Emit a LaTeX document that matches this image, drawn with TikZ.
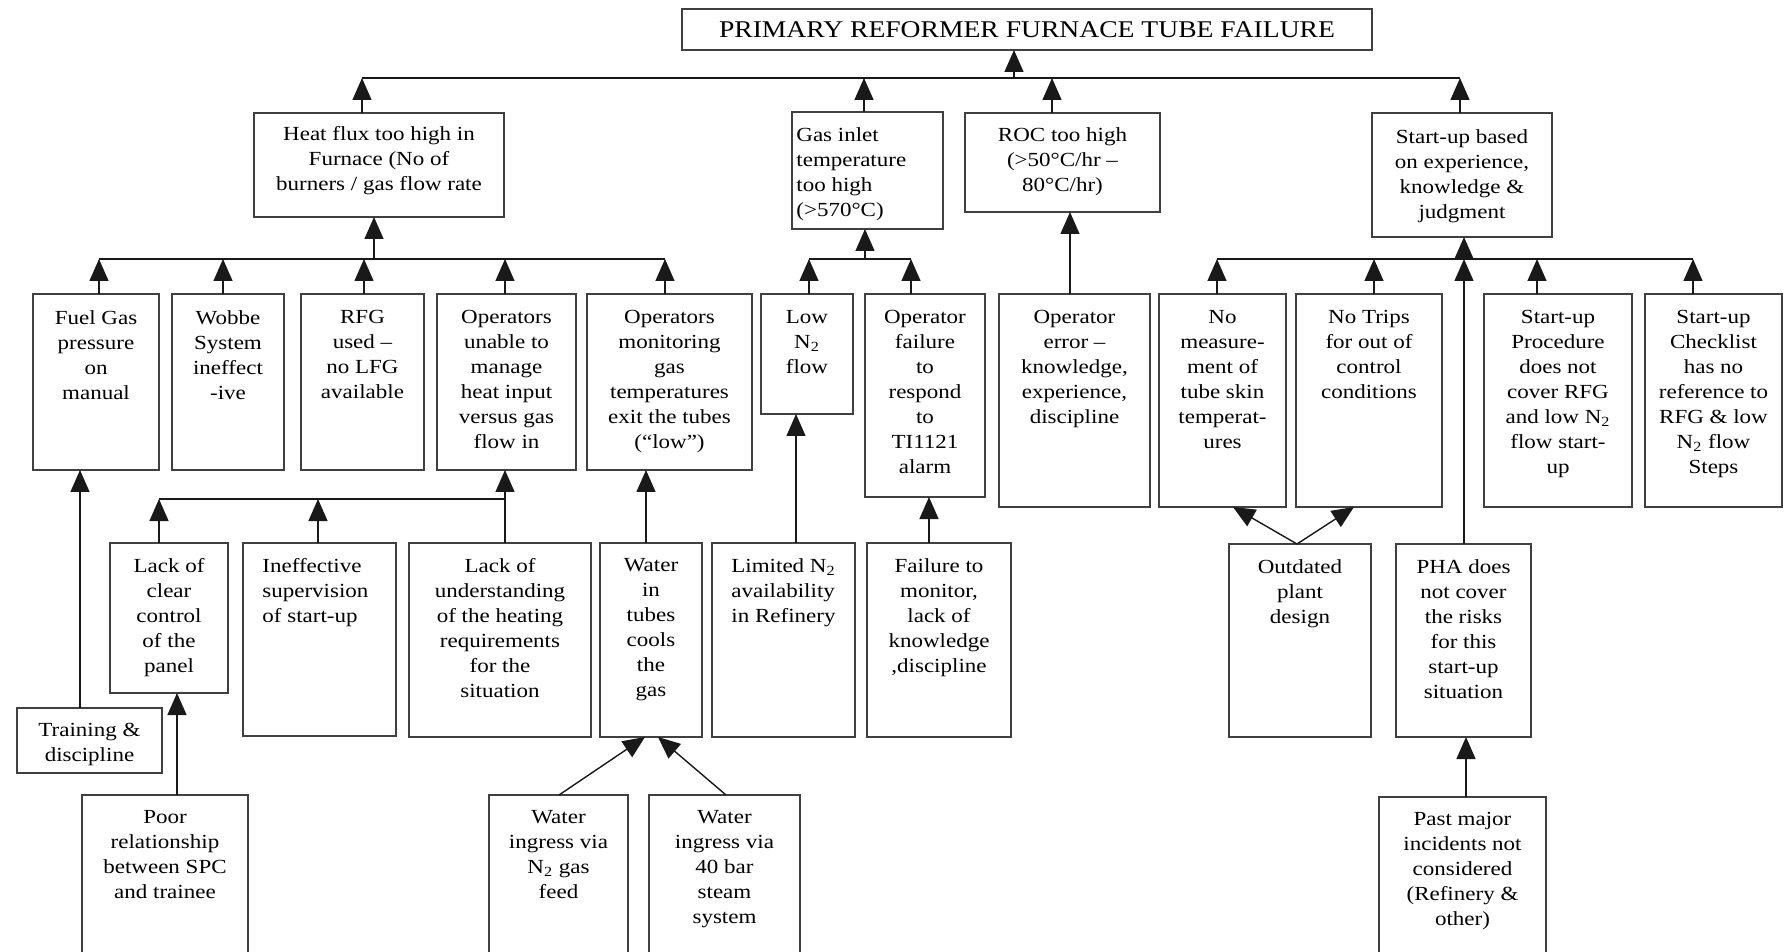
\documentclass[tikz,border=0pt]{standalone}
\usepackage{fontspec}
\setmainfont[FakeStretch=1.15]{Liberation Serif}
\usetikzlibrary{arrows.meta}
\tikzset{
 boxst/.style={draw=black!75, line width=0.7pt, inner sep=0pt, outer sep=0pt, rectangle, anchor=north west},
 txt/.style={align=center, inner sep=0pt, font=\fontsize{10}{12.5}\selectfont, text=black},
 ln/.style={line width=0.7pt, draw=black!90},
 arr/.style={ln, -{Triangle[length=11pt,width=9.5pt]}},
}
\newcommand\mybox[7][8]{%
 \node[boxst, minimum width={(#5-#3)*0.5pt}, minimum height={(#6-#4)*0.5pt}] (#2) at (#3,#4) {};
 \node[txt, anchor=north] (#2t) at ([yshift=-#1pt]#2.north) {#7};}
\newcommand\myboxl[8][8]{%
 \node[boxst, minimum width={(#5-#3)*0.5pt}, minimum height={(#6-#4)*0.5pt}] (#2) at (#3,#4) {};
 \node[txt, align=left, anchor=north west] (#2t) at ([xshift=#7pt, yshift=-#1pt]#2.north west) {#8};}
\begin{document}
\begin{tikzpicture}[x=0.5pt,y=-0.5pt]
\useasboundingbox (0,0) rectangle (1785,952);
\clip (0,0) rectangle (1785,952);
\fill[white] (0,0) rectangle (1785,952);

% title
\node[boxst, minimum width={690*0.5pt}, minimum height={41*0.5pt}, font=\fontsize{12}{14}\selectfont, text=black] (title) at (682,9) {PRIMARY REFORMER FURNACE TUBE FAILURE};

% level 1
\mybox[6.7]{heat}{254}{113}{504}{217}{Heat flux too high in\\Furnace (No of\\burners / gas flow rate}
\myboxl[7.5]{gas}{792}{112}{943}{229}{2}{Gas inlet\\temperature\\too high\\(>570°C)}
\mybox[7]{roc}{965}{113}{1160}{212}{ROC too high\\(>50°C/hr –\\80°C/hr)}
\mybox[8]{start}{1372}{113}{1552}{237}{Start-up based\\on experience,\\knowledge \&\\judgment}

% level 2
\mybox{fuel}{33}{294}{159}{470}{Fuel Gas\\pressure\\on\\manual}
\mybox{wobbe}{172}{294}{284}{470}{Wobbe\\System\\ineffect\\-ive}
\mybox{rfg}{301}{294}{424}{470}{RFG\\used –\\no LFG\\available}
\mybox{opu}{437}{294}{576}{470}{Operators\\unable to\\manage\\heat input\\versus gas\\flow in}
\mybox{opm}{587}{294}{752}{470}{Operators\\monitoring\\gas\\temperatures\\exit the tubes\\(“low”)}
\mybox{lown}{761}{294}{853}{414}{Low\\N\textsubscript{2}\\flow}
\mybox{opf}{865}{294}{985}{497}{Operator\\failure\\to\\respond\\to\\TI1121\\alarm}
\mybox{ope}{999}{294}{1150}{507}{Operator\\error –\\knowledge,\\experience,\\discipline}
\mybox{nomeas}{1159}{294}{1286}{507}{No\\measure-\\ment of\\tube skin\\temperat-\\ures}
\mybox{notrip}{1296}{294}{1442}{507}{No Trips\\for out of\\control\\conditions}
\mybox{proc}{1484}{294}{1632}{507}{Start-up\\Procedure\\does not\\cover RFG\\and low N\textsubscript{2}\\flow start-\\up}
\mybox{check}{1645}{294}{1782}{507}{Start-up\\Checklist\\has no\\reference to\\RFG \& low\\N\textsubscript{2} flow\\Steps}

% level 3
\mybox[7.5]{lcc}{110}{543}{228}{693}{Lack of\\clear\\control\\of the\\panel}
\myboxl[7.5]{ineff}{243}{543}{396}{736}{9.5}{Ineffective\\supervision\\of start-up}
\mybox[7.5]{lou}{409}{543}{591}{737}{Lack of\\understanding\\of the heating\\requirements\\for the\\situation}
\mybox[7.5]{wit}{600}{543}{702}{737}{Water\\in\\tubes\\cools\\the\\gas}
\myboxl[7.5]{limn}{712}{543}{855}{737}{9.5}{Limited N\textsubscript{2}\\availability\\in Refinery}
\mybox[7.5]{ftm}{867}{543}{1011}{737}{Failure to\\monitor,\\lack of\\knowledge\\,discipline}
\mybox[7.5]{outd}{1229}{544}{1371}{737}{Outdated\\plant\\design}
\mybox[7.5]{pha}{1396}{544}{1531}{737}{PHA does\\not cover\\the risks\\for this\\start-up\\situation}

% lower
\mybox[7.5]{train}{17}{708}{162}{773}{Training \&\\discipline}
\mybox[7.5]{poor}{82}{795}{248}{970}{Poor\\relationship\\between SPC\\and trainee}
\mybox[7.5]{wn2}{489}{795}{628}{970}{Water\\ingress via\\N\textsubscript{2} gas\\feed}
\mybox[7.5]{wforty}{649}{795}{800}{970}{Water\\ingress via\\40 bar\\steam\\system}
\mybox[7.5]{past}{1379}{797}{1546}{970}{Past major\\incidents not\\considered\\(Refinery \&\\other)}

% top bus
\coordinate (tb1) at (362,78);
\coordinate (tb2) at (1460,78);
\coordinate (tbT) at (1014,78);
\coordinate (tbG) at (864,78);
\coordinate (tbR) at (1052,78);
\draw[ln] (tb1) -- (tb2);
\draw[arr] (tbT) -- (tbT |- title.south);
\draw[arr] (tb1 |- heat.north) -- (tb1);
\draw[arr] (tbG |- gas.north) -- (tbG);
\draw[arr] (tbR |- roc.north) -- (tbR);
\draw[arr] (tb2 |- start.north) -- (tb2);

% heat flux sub-bus
\coordinate (hb) at (374,259);
\coordinate (hb1) at (99,259);
\coordinate (hb2) at (223,259);
\coordinate (hb3) at (364,259);
\coordinate (hb4) at (505,259);
\coordinate (hb5) at (665,259);
\draw[ln] (hb1) -- (hb5);
\draw[arr] (hb) -- (hb |- heat.south);
\draw[arr] (hb1 |- fuel.north) -- (hb1);
\draw[arr] (hb2 |- wobbe.north) -- (hb2);
\draw[arr] (hb3 |- rfg.north) -- (hb3);
\draw[arr] (hb4 |- opu.north) -- (hb4);
\draw[arr] (hb5 |- opm.north) -- (hb5);

% gas sub-bus
\coordinate (gb) at (865,259);
\coordinate (gb1) at (809,259);
\coordinate (gb2) at (911,259);
\draw[ln] (gb1) -- (gb2);
\draw[arr] (gb) -- (gb |- gas.south);
\draw[arr] (gb1 |- lown.north) -- (gb1);
\draw[arr] (gb2 |- opf.north) -- (gb2);

% ROC
\coordinate (rc) at (1070,0);
\draw[arr] (rc |- ope.north) -- (rc |- roc.south);

% start-up sub-bus
\coordinate (sb) at (1464,259);
\coordinate (sb1) at (1217,259);
\coordinate (sb2) at (1374,259);
\coordinate (sb3) at (1537,259);
\coordinate (sb4) at (1693,259);
\draw[ln] (sb1) -- (sb4);
\draw[arr] (sb) -- (sb |- start.south);
\draw[arr] (sb1 |- nomeas.north) -- (sb1);
\draw[arr] (sb2 |- notrip.north) -- (sb2);
\draw[arr] (sb3 |- proc.north) -- (sb3);
\draw[arr] (sb4 |- check.north) -- (sb4);
\draw[arr] (sb |- pha.north) -- (sb);

% level 3 -> level 2
\coordinate (c80) at (80,0);
\draw[arr] (c80 |- train.north) -- (c80 |- fuel.south);
\coordinate (ob) at (505,499);
\coordinate (ob1) at (159,499);
\coordinate (ob2) at (318,499);
\draw[ln] (ob1) -- (ob);
\draw[arr] (ob |- lou.north) -- (ob |- opu.south);
\draw[arr] (ob1 |- lcc.north) -- (ob1);
\draw[arr] (ob2 |- ineff.north) -- (ob2);
\coordinate (c646) at (646,0);
\draw[arr] (c646 |- wit.north) -- (c646 |- opm.south);
\coordinate (c796) at (796,0);
\draw[arr] (c796 |- limn.north) -- (c796 |- lown.south);
\coordinate (c929) at (929,0);
\draw[arr] (c929 |- ftm.north) -- (c929 |- opf.south);
\coordinate (c177) at (177,0);
\draw[arr] (c177 |- poor.north) -- (c177 |- lcc.south);

% water ingress
\coordinate (a1) at (559,0);
\coordinate (a1t) at (645,0);
\coordinate (a2) at (726,0);
\coordinate (a2t) at (658,0);
\draw[arr] (a1 |- wn2.north) -- (a1t |- wit.south);
\draw[arr] (a2 |- wforty.north) -- (a2t |- wit.south);

% outdated design
\coordinate (o0) at (1297,0);
\coordinate (o1) at (1233,0);
\coordinate (o2) at (1354,0);
\draw[arr] (o0 |- outd.north) -- (o1 |- nomeas.south);
\draw[arr] (o0 |- outd.north) -- (o2 |- notrip.south);

% past incidents
\coordinate (p0) at (1466,0);
\draw[arr] (p0 |- past.north) -- (p0 |- pha.south);
\end{tikzpicture}
\end{document}
